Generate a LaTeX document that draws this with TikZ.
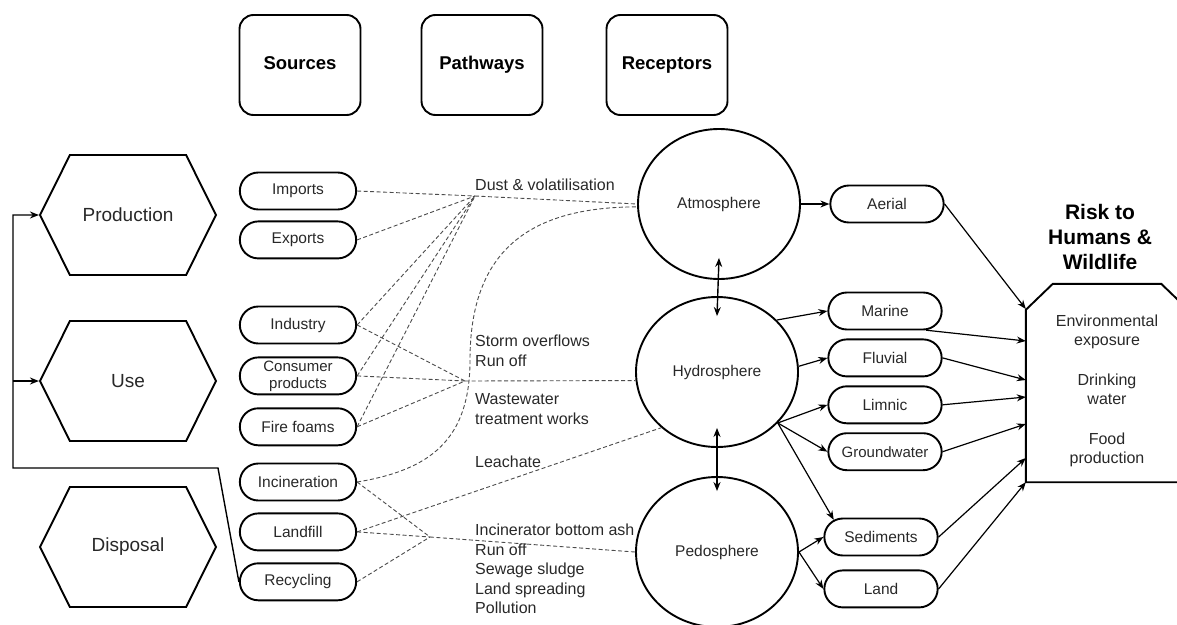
\documentclass[tikz,border=0pt]{standalone}
\usepackage{fontspec}
\setmainfont{Liberation Sans}
\usepackage{tikz}
\usetikzlibrary{positioning, arrows.meta, shapes.geometric, shapes.misc, shapes.symbols}
\definecolor{InkGrey}{RGB}{40,40,40}
\definecolor{PathGrey}{RGB}{75,75,75}

\begin{document}
\begin{tikzpicture}[
  x=1pt, y=-1pt, every node/.style={font=\fontsize{15.5}{17}\selectfont, text=InkGrey},
  header/.style={draw, line width=1.9pt, rounded corners=14pt, minimum width=121pt, minimum height=100pt, text height=13pt, text depth=4pt, font=\fontsize{18.5}{20}\selectfont\bfseries, text=black},
  stage/.style={draw, line width=1.9pt, signal, signal to=west and east, signal pointer angle=127, minimum width=176pt, minimum height=120pt, font=\fontsize{19}{21}\selectfont},
  source/.style={draw, line width=1.9pt, rounded rectangle, minimum width=123pt, minimum height=37pt, inner ysep=0pt, align=center},
  sphere/.style={draw, line width=1.9pt, ellipse, minimum width=162pt, minimum height=150pt},
  sink/.style={draw, line width=1.9pt, rounded rectangle, minimum width=120pt, minimum height=37pt, inner ysep=0pt},
  route/.style={anchor=west, align=left, inner sep=0pt, font=\fontsize{16}{19.5}\selectfont},
  flow/.style={dash pattern=on 4pt off 2.5pt, PathGrey, line width=0.9pt},
  arrow/.style={-{Stealth[length=9pt,width=7pt]}, line width=1.2pt},
  both/.style={{Stealth[length=9pt,width=7pt]}-{Stealth[length=9pt,width=7pt]}, line width=1.4pt}
]
\useasboundingbox (0,0) rectangle (1177,624);
\clip (0,0) rectangle (1177,624);

% Column headers
\node[header] (sources) at (300,65) {Sources};
\node[header] (pathways) at (482,65) {Pathways};
\node[header] (receptors) at (667,65) {Receptors};

% Life-cycle stages
\node[stage] (production) at (128,215) {Production};
\node[stage] (use) at (128,381) {Use};
\node[stage] (disposal) at (128,547) {Disposal};

% Sources
\node[source] (imports) at (298,191) {Imports};
\node[source, below=10pt of imports] (exports) {Exports};
\node[source] (industry) at (298,325) {Industry};
\node[source, below=12pt of industry, font=\fontsize{15}{17}\selectfont] (consumer) {Consumer\\products};
\node[source, below=12pt of consumer] (foams) {Fire foams};
\node[source] (incin) at (298,482) {Incineration};
\node[source, below=11pt of incin] (landfill) {Landfill};
\node[source, below=11pt of landfill] (recycling) {Recycling};

% Recycling loop back to production and use
\coordinate (loopcorner) at (218,468);
\coordinate (loopleft) at (13,468);
\draw[arrow, line width=1.4pt] (recycling.west) -- (loopcorner) -- (loopleft) |- (production.west);
\draw[arrow, line width=1.4pt] (loopleft |- use.west) -- (use.west);

% Receptor compartments
\node[sphere] (atmo) at (719,204) {Atmosphere};
\node[sphere] (hydro) at (717,372) {Hydrosphere};
\node[sphere] (pedo) at (717,552) {Pedosphere};
\draw[both] ([yshift=22pt]atmo.south) -- ([yshift=-20pt]hydro.north);
\draw[both] ([yshift=20pt]hydro.south) -- ([yshift=-15pt]pedo.north);

% Pathway labels
\node[route] (dust) at (475,185) {Dust \& volatilisation};
\node[route] (storm) at (475,351) {Storm overflows\\Run off};
\node[route] (wwtw) at (475,409) {Wastewater\\treatment works};
\node[route] (leachate) at (475,462) {Leachate};
\node[route] (soil) at (475,569) {Incinerator bottom ash\\Run off\\Sewage sludge\\Land spreading\\Pollution};

% Pathways (dashed)
\coordinate (airhub) at (475,196);
\coordinate (waterhub) at (465,381);
\coordinate (soilhub) at (430,537);
\foreach \src in {imports, exports, industry, consumer, foams}
  \draw[flow] (\src.east) -- (airhub);
\draw[flow] (airhub) -- (atmo.west);
\foreach \src in {industry, consumer, foams}
  \draw[flow] (\src.east) -- (waterhub);
\draw[flow] (waterhub) -- (hydro.186);
\foreach \src in {incin, landfill, recycling}
  \draw[flow] (\src.east) -- (soilhub);
\draw[flow] (soilhub) -- (pedo.west);
\draw[flow] (landfill.east) -- (hydro.225);
\draw[flow] (incin.east) .. controls (430,470) and (470,440) .. (470,360) .. controls (470,250) and (530,207) .. (atmo.182);

% Receiving environments
\node[sink] (aerial) at (887,204) {Aerial};
\node[sink] (marine) at (885,311) {Marine};
\node[sink, below=8pt of marine] (fluvial) {Fluvial};
\node[sink, below=8pt of fluvial] (limnic) {Limnic};
\node[sink, below=8pt of limnic, font=\fontsize{15}{17}\selectfont] (groundwater) {Groundwater};
\node[sink] (sediments) at (881,537) {Sediments};
\node[sink, below=13pt of sediments] (land) {Land};

\draw[arrow] (atmo.east) -- (aerial.west);
\draw[arrow] (hydro.41) -- (marine.west);
\draw[arrow] (hydro.4) -- (fluvial.west);
\foreach \dst in {limnic, groundwater}
  \draw[arrow] (hydro.-40) -- (\dst.west);
\draw[arrow] (hydro.-40) -- (sediments.160);
\draw[arrow] (pedo.east) -- (sediments.west);
\draw[arrow] (pedo.east) -- (land.west);

% Risk box
\node[align=center, font=\fontsize{21}{25}\selectfont\bfseries, text=black] (risktitle) at (1100,237) {Risk to\\Humans \&\\Wildlife};
\node[minimum width=162pt, minimum height=198pt] (riskbox) at (1107,383) {};
\draw[line width=1.9pt] (riskbox.south east) -- (riskbox.south west) -- ([yshift=-26pt]riskbox.north west) -- ([xshift=27pt]riskbox.north west) -- ([xshift=-27pt]riskbox.north east) -- ([yshift=-26pt]riskbox.north east) -- cycle;
\node[align=center, font=\fontsize{16}{19}\selectfont] (risktext) at (1107,391) {Environmental\\exposure\\[21pt]Drinking\\water\\[21pt]Food\\production};

\draw[arrow] (aerial.east) -- ([yshift=74pt]riskbox.west);
\draw[arrow] (marine.-25) -- ([yshift=42pt]riskbox.west);
\draw[arrow] (fluvial.east) -- ([yshift=3pt]riskbox.west);
\draw[arrow] (limnic.east) -- ([yshift=-14pt]riskbox.west);
\draw[arrow] (groundwater.east) -- ([yshift=-41pt]riskbox.west);
\draw[arrow] (sediments.east) -- ([yshift=-75pt]riskbox.west);
\draw[arrow] (land.east) -- (riskbox.south west);

\end{tikzpicture}
\end{document}
